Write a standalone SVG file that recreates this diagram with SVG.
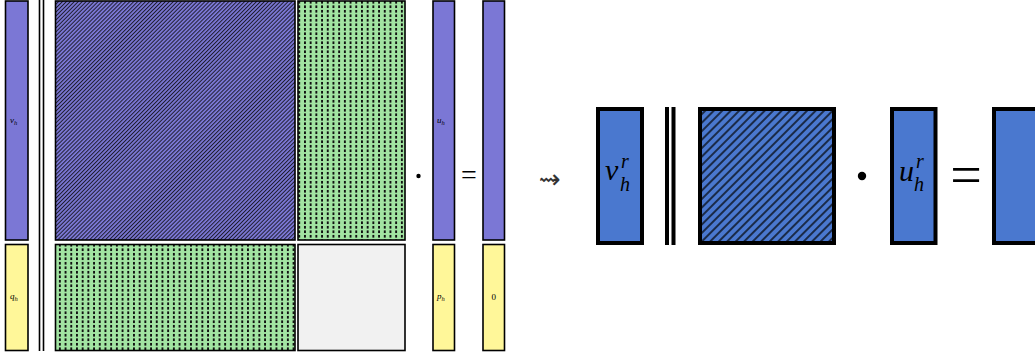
<svg xmlns="http://www.w3.org/2000/svg" width="1035" height="359" viewBox="0 0 1035 359">
<style>
.thin{stroke:#000;stroke-width:1.6}
.thick{stroke:#000;stroke-width:4}
.purple{fill:#7B77D5}
.yellow{fill:#FFF799}
.blue{fill:#4A78CF}
.m{font-family:"Liberation Serif",serif;font-style:italic;fill:#000}
.n{font-family:"Liberation Serif",serif;fill:#000}
</style>
<defs>
<pattern id="hatchL" width="2.8" height="10" patternUnits="userSpaceOnUse" patternTransform="rotate(45)">
<rect width="2.8" height="10" fill="#7B77D5"/>
<line x1="0.5" y1="0" x2="0.5" y2="10" stroke="#1a1a2a" stroke-width="0.95"/>
</pattern>
<pattern id="hatchR" width="6" height="10" patternUnits="userSpaceOnUse" patternTransform="rotate(45)">
<rect width="6" height="10" fill="#4A78CF"/>
<line x1="1" y1="0" x2="1" y2="10" stroke="#000" stroke-width="1.3"/>
</pattern>
<pattern id="dots" x="0" y="0" width="5.7" height="4.5" patternUnits="userSpaceOnUse">
<rect width="5.7" height="4.5" fill="#A2E4A2"/>
<rect x="1.5" y="1.2" width="2" height="2" fill="#111" shape-rendering="crispEdges"/>
</pattern>
</defs>

<g id="left-system">
<g id="v_h"><rect class="purple thin" x="5.5" y="1" width="22.5" height="239"/>
<text class="m" x="10" y="123" font-size="9">v<tspan font-size="6.5" dy="1.5">h</tspan></text></g>
<g id="q_h"><rect class="yellow thin" x="5.5" y="244.5" width="22.5" height="106"/>
<text class="m" x="10" y="299" font-size="9">q<tspan font-size="6.5" dy="1.5">h</tspan></text></g>
<g id="bars-left"><line class="thin" x1="39.5" y1="0" x2="39.5" y2="351" stroke-width="1.3"/><line class="thin" x1="43.5" y1="0" x2="43.5" y2="351" stroke-width="1.3"/></g>
<g id="A"><rect class="thin" x="55.5" y="1" width="239.5" height="239" fill="url(#hatchL)"/></g>
<g id="B"><rect class="thin" x="298" y="1" width="107" height="239" fill="url(#dots)"/></g>
<g id="C"><rect class="thin" x="55.5" y="244.5" width="239.5" height="106" fill="url(#dots)"/></g>
<g id="D"><rect class="thin" x="298" y="244.5" width="107" height="106" fill="#F1F1F1"/></g>
<g id="dot-left"><circle cx="418.5" cy="176" r="2.2" fill="#000"/></g>
<g id="u_h"><rect class="purple thin" x="433" y="1" width="21.5" height="239"/>
<text class="m" x="437" y="123" font-size="9">u<tspan font-size="6.5" dy="1.5">h</tspan></text></g>
<g id="p_h"><rect class="yellow thin" x="433" y="244.5" width="21.5" height="106"/>
<text class="m" x="437" y="299" font-size="9">p<tspan font-size="6.5" dy="1.5">h</tspan></text></g>
<g id="eq-left"><text class="n" x="469" y="184" font-size="28" text-anchor="middle">=</text></g>
<g id="rhs"><rect class="purple thin" x="483" y="1" width="21.5" height="239"/></g>
<g id="zero"><rect class="yellow thin" x="483" y="244.5" width="21.5" height="106"/>
<text class="n" x="493.7" y="300" font-size="9" text-anchor="middle">0</text></g>
</g>

<g id="connectors"><text x="550" y="188" font-family="DejaVu Sans, sans-serif" font-size="26" text-anchor="middle" fill="#333">⇝</text></g>

<g id="right-system">
<g id="v_h_r"><rect class="blue thick" x="598" y="109" width="44" height="134"/>
<text class="m" x="605" y="180" font-size="30">v</text>
<text class="m" x="621" y="168" font-size="20">r</text>
<text class="m" x="620" y="191" font-size="20">h</text></g>
<g id="bars-right"><line class="thick" x1="667" y1="107" x2="667" y2="245" stroke-width="3"/><line class="thick" x1="673.5" y1="107" x2="673.5" y2="245" stroke-width="3"/></g>
<g id="Ar"><rect class="thick" x="700" y="109" width="134" height="134" fill="url(#hatchR)"/></g>
<g id="dot-right"><circle cx="862" cy="176" r="4.2" fill="#000"/></g>
<g id="u_h_r"><rect class="blue thick" x="892" y="109" width="43.5" height="134"/>
<text class="m" x="899" y="181" font-size="30">u</text>
<text class="m" x="916" y="168" font-size="20">r</text>
<text class="m" x="914" y="191" font-size="20">h</text></g>
<g id="eq-right"><text class="n" x="966" y="194" font-size="56" text-anchor="middle">=</text></g>
<g id="rhs-r"><rect class="blue thick" x="994" y="109" width="48" height="134"/></g>
</g>
</svg>
